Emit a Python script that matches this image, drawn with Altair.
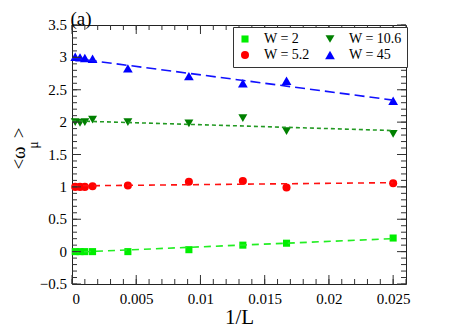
import altair as alt
import pandas as pd

# ---- data ----
inv_L = [0.00025, 0.000625, 0.001, 0.0016, 0.00435, 0.0091, 0.0133, 0.0167, 0.025]
omega_w2 = [0.0, 0.0, 0.0, 0.0, 0.0, 0.03, 0.10, 0.13, 0.21]
omega_w52 = [1.0, 1.0, 1.0, 1.01, 1.02, 1.08, 1.09, 0.99, 1.055]
omega_w106 = [2.0, 1.99, 2.0, 2.04, 2.0, 1.98, 2.06, 1.86, 1.82]
omega_w45 = [3.01, 3.0, 2.99, 2.98, 2.83, 2.71, 2.60, 2.64, 2.33]

fit_x = [0.0, 0.025]
fit_w2 = [-0.01, 0.20]
fit_w52 = [1.015, 1.065]
fit_w106 = [2.02, 1.87]
fit_w45 = [2.99, 2.34]

names = ["W = 2", "W = 5.2", "W = 10.6", "W = 45"]
colors = ["#00ee00", "#ff0000", "#008000", "#0000ff"]
line_colors = ["#22ee22", "#ff1111", "#229922", "#1111ff"]
shapes = ["square", "circle", "triangle-down", "triangle-up"]
sizes = [50, 95, 120, 120]
dashes = [[7, 5], [6, 5], [4, 3], [10, 5]]
legend_order = names

x_major = [0, 0.005, 0.01, 0.015, 0.02, 0.025]
y_major = [-0.5, 0, 0.5, 1, 1.5, 2, 2.5, 3, 3.5]
x_minor = [round(0.001 * i, 3) for i in range(27)]
y_minor = [round(-0.5 + 0.1 * i, 1) for i in range(41)]

panel_label = ["(a)"]
x_title = "1/L"

W, H = 334, 259
FONT = "Liberation Serif"

series = [omega_w2, omega_w52, omega_w106, omega_w45]
fits = [fit_w2, fit_w52, fit_w106, fit_w45]

pts = pd.DataFrame(
    [{"x": x, "y": y, "W": n} for n, ys in zip(names, series) for x, y in zip(inv_L, ys)]
)
fit_df = pd.DataFrame(
    [{"x": x, "y": y, "W": n} for n, ys in zip(names, fits) for x, y in zip(fit_x, ys)]
)

def ordered(vals):
    m = dict(zip(names, vals))
    return [m[n] for n in legend_order]

xs = alt.Scale(domain=[0, 0.026], nice=False, zero=False)
ys = alt.Scale(domain=[-0.5, 3.5], nice=False, zero=False)

def make_legend():
    return alt.Legend(
        title=None, orient="none", legendX=161, legendY=2, columns=2,
        fillColor="white", strokeColor="#333333", padding=5,
        labelFont=FONT, labelFontSize=14, labelColor="black",
        labelOffset=12, columnPadding=13, rowPadding=2,
        symbolStrokeWidth=0, symbolOpacity=1,
    )

points = alt.Chart(pts).mark_point(filled=True, opacity=1).encode(
    x=alt.X(
        "x:Q", scale=xs,
        axis=alt.Axis(values=x_major, ticks=False, domain=False, grid=False,
                      format="~g", labelPadding=7, labelOverlap=False,
                      title=x_title, titleFontSize=21, titlePadding=0),
    ),
    y=alt.Y(
        "y:Q", scale=ys,
        axis=alt.Axis(values=y_major, ticks=False, domain=False, grid=False,
                      labels=False, title=None),
    ),
    color=alt.Color("W:N", scale=alt.Scale(domain=legend_order, range=ordered(colors)), legend=make_legend()),
    shape=alt.Shape("W:N", scale=alt.Scale(domain=legend_order, range=ordered(shapes)), legend=make_legend()),
    size=alt.Size("W:N", scale=alt.Scale(domain=legend_order, range=ordered(sizes)), legend=make_legend()),
)

lines = alt.Chart(fit_df).mark_line(strokeWidth=1.6).encode(
    x=alt.X("x:Q", scale=xs),
    y=alt.Y("y:Q", scale=ys),
    stroke=alt.Stroke("W:N", scale=alt.Scale(domain=legend_order, range=ordered(line_colors)), legend=None),
    strokeDash=alt.StrokeDash("W:N", scale=alt.Scale(domain=legend_order, range=ordered(dashes)), legend=None),
)

def xticks(vals, length, top):
    df = pd.DataFrame({"x": vals})
    if top:
        yv, y2v = alt.value(0), alt.value(length)
    else:
        yv, y2v = alt.value(H), alt.value(H - length)
    return alt.Chart(df).mark_rule(color="#333333", strokeWidth=1).encode(
        x=alt.X("x:Q", scale=xs), y=yv, y2=y2v)

def yticks(vals, length, right):
    df = pd.DataFrame({"y": vals})
    if right:
        xv, x2v = alt.value(W), alt.value(W - length)
    else:
        xv, x2v = alt.value(0), alt.value(length)
    return alt.Chart(df).mark_rule(color="#333333", strokeWidth=1).encode(
        y=alt.Y("y:Q", scale=ys), x=xv, x2=x2v)

ticks = [
    xticks(x_major, 9, False), xticks(x_major, 9, True),
    xticks(x_minor, 5, False), xticks(x_minor, 5, True),
    yticks(y_major, 9, False), yticks(y_major, 9, True),
    yticks(y_minor, 5, False), yticks(y_minor, 5, True),
]

# y tick labels placed through the y scale
ylabels = alt.Chart(pd.DataFrame({"y": y_major})).mark_text(
    font=FONT, fontSize=15, align="right", baseline="middle", color="black"
).encode(
    y=alt.Y("y:Q", scale=ys),
    x=alt.value(-5),
    text=alt.Text("y:Q", format="~g"),
)

label_a = alt.Chart(pd.DataFrame({"t": panel_label})).mark_text(
    font=FONT, fontSize=19, align="center", baseline="middle", color="black"
).encode(text="t:N", x=alt.value(9), y=alt.value(-6))

ytitle_main = alt.Chart(pd.DataFrame({"t": ["<\u03c9"]})).mark_text(
    font=FONT, fontSize=19, align="center", baseline="middle", angle=270, color="black"
).encode(text="t:N", x=alt.value(-53), y=alt.value(133))
ytitle_sub = alt.Chart(pd.DataFrame({"t": ["\u03bc"]})).mark_text(
    font=FONT, fontSize=14, align="center", baseline="middle", angle=270, color="black"
).encode(text="t:N", x=alt.value(-38), y=alt.value(120))
ytitle_close = alt.Chart(pd.DataFrame({"t": [">"]})).mark_text(
    font=FONT, fontSize=19, align="center", baseline="middle", angle=270, color="black"
).encode(text="t:N", x=alt.value(-53), y=alt.value(108))

chart = alt.layer(
    points, lines, *ticks, ylabels, label_a, ytitle_main, ytitle_sub, ytitle_close
).properties(
    width=W, height=H,
    autosize=alt.AutoSizeParams(type="none"),
    padding={"left": 64, "top": 17, "right": 30, "bottom": 48},
).configure(
    font=FONT
).configure_view(
    stroke="#222222", strokeWidth=1
).configure_axis(
    labelFont=FONT, titleFont=FONT,
    labelFontSize=15, labelColor="black",
    titleFontWeight="normal", titleColor="black",
    ticks=False, domain=False, grid=False, labelOverlap=False,
)

chart.save("out.html", embed_options={"renderer": "svg", "actions": False})
